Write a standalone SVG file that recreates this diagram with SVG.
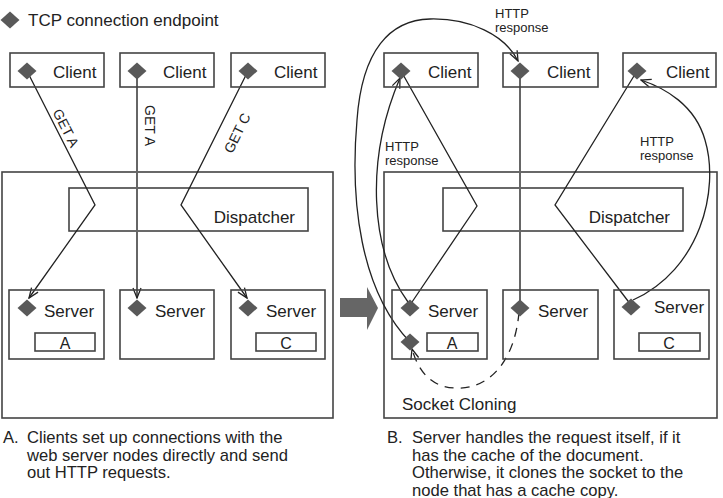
<svg xmlns="http://www.w3.org/2000/svg" width="723" height="498" viewBox="0 0 723 498">
<defs>
<style>
text{font-family:"Liberation Sans",Arial,sans-serif;fill:#222}
.t17{font-size:17px}
.cap{font-size:16.6px}
.t16{font-size:16px}
.t14{font-size:14px}
.t13{font-size:13px}
.box{fill:none;stroke:#444;stroke-width:1.6}
.dia{fill:#595959}
.ln{fill:none;stroke:#222;stroke-width:1.3}
.gl{fill:none;stroke:#666;stroke-width:2}
.dash{fill:none;stroke:#222;stroke-width:1.3;stroke-dasharray:9 7}
</style>
<marker id="arr" viewBox="0 0 12 10" markerWidth="12" markerHeight="10" refX="11" refY="5" orient="auto" markerUnits="userSpaceOnUse">
<path d="M1,1 L11,5 L1,9" fill="none" stroke="#222" stroke-width="1.3"/>
</marker>
<path id="d" d="M0,-8.5 L9.5,0 L0,8.5 L-9.5,0 Z"/>
</defs>

<g id="legend">
<use href="#d" class="dia" transform="translate(10,20)"/>
<text class="t17" x="28" y="26">TCP connection endpoint</text>
</g>

<g id="clusterA">
<rect class="box" x="2" y="172" width="331" height="246"/>
</g>
<g id="clusterB">
<rect class="box" x="384" y="172" width="333" height="246"/>
</g>
<g id="dispatcherA">
<rect class="box" x="69" y="188" width="239" height="43"/>
<text class="t17" x="295" y="223" text-anchor="end">Dispatcher</text>
</g>
<g id="dispatcherB">
<rect class="box" x="443" y="188" width="240" height="43"/>
<text class="t17" x="670" y="223" text-anchor="end">Dispatcher</text>
</g>

<g id="connectors">
<polyline class="ln" points="27,71 95,205 29,298" marker-end="url(#arr)"/>
<line class="gl" x1="137" y1="71" x2="137" y2="298" marker-end="url(#arr)"/>
<polyline class="ln" points="248,71 181,205 247,298" marker-end="url(#arr)"/>
<polyline class="ln" points="401,71 477,206 410,305"/>
<line class="gl" x1="520" y1="71" x2="520" y2="308"/>
<polyline class="ln" points="637,71 555,205 631,305"/>
<path class="ln" d="M408,302 C370,250 365,160 400,78" marker-end="url(#arr)"/>
<path class="ln" d="M410,342 C360,290 350,200 357,120 C362,50 390,20 430,19 C470,18 505,35 518,61" marker-end="url(#arr)"/>
<path class="ln" d="M633,300 C700,270 720,190 705,140 C695,105 665,88 641,80" marker-end="url(#arr)"/>
<path class="dash" d="M519,312 C515,360 490,390 455,388 C430,387 418,370 412,349" marker-end="url(#arr)"/>
<text class="t14" transform="translate(66,128) rotate(63)" x="0" y="5" text-anchor="middle">GET A</text>
<text class="t14" transform="translate(145,105) rotate(90)" x="0" y="0">GET A</text>
<text class="t14" transform="translate(237,133) rotate(-64)" x="0" y="5" text-anchor="middle">GET C</text>
<text class="t13" x="495" y="18">HTTP</text>
<text class="t13" x="495" y="32">response</text>
<text class="t13" x="385" y="151">HTTP</text>
<text class="t13" x="385" y="165">response</text>
<text class="t13" x="640" y="146">HTTP</text>
<text class="t13" x="640" y="160">response</text>
<text class="t17" x="402" y="410">Socket Cloning</text>
</g>

<g id="transition">
<polygon points="340,298 367,298 367,287 378,308 367,330 367,317 340,317" fill="#666"/>
</g>

<g id="clientA1"><rect class="box" x="10" y="53" width="94" height="34"/><use href="#d" class="dia" transform="translate(27,71)"/><text class="t17" x="53" y="78">Client</text></g>
<g id="clientA2"><rect class="box" x="120" y="53" width="94" height="34"/><use href="#d" class="dia" transform="translate(137,71)"/><text class="t17" x="163" y="78">Client</text></g>
<g id="clientA3"><rect class="box" x="231" y="53" width="94" height="34"/><use href="#d" class="dia" transform="translate(248,71)"/><text class="t17" x="274" y="78">Client</text></g>

<g id="serverA1"><rect class="box" x="9" y="290" width="95" height="69"/><use href="#d" class="dia" transform="translate(27,308)"/><text class="t17" x="44" y="317">Server</text><rect class="box" x="35" y="333" width="60" height="18"/><text class="t16" x="65" y="349" text-anchor="middle">A</text></g>
<g id="serverA2"><rect class="box" x="120" y="290" width="94" height="69"/><use href="#d" class="dia" transform="translate(137,308)"/><text class="t17" x="155" y="317">Server</text></g>
<g id="serverA3"><rect class="box" x="231" y="290" width="94" height="69"/><use href="#d" class="dia" transform="translate(248,308)"/><text class="t17" x="266" y="317">Server</text><rect class="box" x="256" y="333" width="60" height="18"/><text class="t16" x="286" y="349" text-anchor="middle">C</text></g>

<g id="clientB1"><rect class="box" x="384" y="53" width="94" height="34"/><use href="#d" class="dia" transform="translate(401,71)"/><text class="t17" x="428" y="78">Client</text></g>
<g id="clientB2"><rect class="box" x="503" y="53" width="95" height="34"/><use href="#d" class="dia" transform="translate(520,71)"/><text class="t17" x="547" y="78">Client</text></g>
<g id="clientB3"><rect class="box" x="623" y="53" width="93" height="34"/><use href="#d" class="dia" transform="translate(637,71)"/><text class="t17" x="666" y="78">Client</text></g>

<g id="serverB1"><rect class="box" x="392" y="290" width="95" height="69"/><use href="#d" class="dia" transform="translate(410,308)"/><use href="#d" class="dia" transform="translate(410,342)"/><text class="t17" x="428" y="317">Server</text><rect class="box" x="427" y="333" width="51" height="18"/><text class="t16" x="452" y="349" text-anchor="middle">A</text></g>
<g id="serverB2"><rect class="box" x="503" y="290" width="95" height="69"/><use href="#d" class="dia" transform="translate(520,308)"/><text class="t17" x="538" y="317">Server</text></g>
<g id="serverB3"><rect class="box" x="614" y="290" width="95" height="69"/><use href="#d" class="dia" transform="translate(631,307)"/><text class="t17" x="654" y="313">Server</text><rect class="box" x="639" y="333" width="61" height="18"/><text class="t16" x="669" y="349" text-anchor="middle">C</text></g>

<g id="captionA">
<text class="cap" x="3" y="443">A.</text>
<text class="cap" x="27" y="443">Clients set up connections with the</text>
<text class="cap" x="27" y="460.5">web server nodes directly and send</text>
<text class="cap" x="27" y="478">out HTTP requests.</text>
</g>
<g id="captionB">
<text class="cap" x="387" y="443">B.</text>
<text class="cap" x="412" y="443">Server handles the request itself, if it</text>
<text class="cap" x="412" y="460.5">has the cache of the document.</text>
<text class="cap" x="412" y="478">Otherwise, it clones the socket to the</text>
<text class="cap" x="412" y="495.5">node that has a cache copy.</text>
</g>
</svg>
